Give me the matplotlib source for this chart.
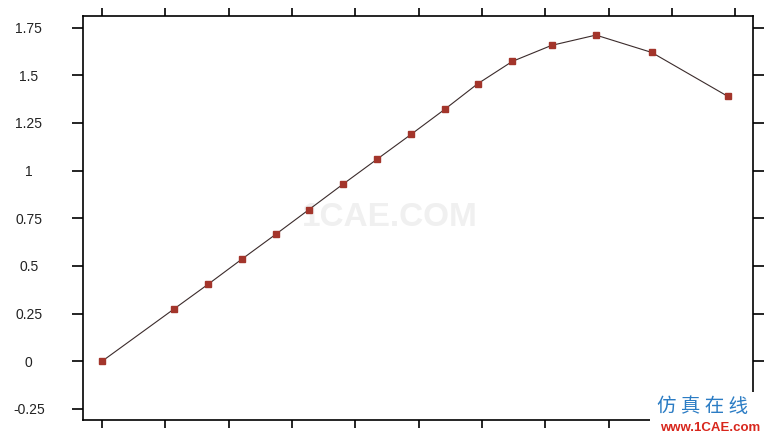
import matplotlib
matplotlib.use('Agg')
import matplotlib.pyplot as plt
from matplotlib.patches import Rectangle
import numpy as np

# values
x_vals = [0.0, 1.14, 1.68, 2.21, 2.74, 3.27, 3.81, 4.34, 4.88, 5.41,
          5.93, 6.48, 7.10, 7.80, 8.68, 9.88]
y_vals = [0.0, 0.275, 0.405, 0.536, 0.665, 0.796, 0.93, 1.059, 1.19, 1.321,
          1.455, 1.573, 1.657, 1.711, 1.62, 1.39]
y_ticks = [-0.25, 0, 0.25, 0.5, 0.75, 1, 1.25, 1.5, 1.75]
y_labels = ['-0.25', '0', '0.25', '0.5', '0.75', '1', '1.25', '1.5', '1.75']
x_ticks = list(range(11))

fig = plt.figure(figsize=(7.75, 4.34), dpi=100)
ax = fig.add_axes([0.1071, 0.0323, 0.8645, 0.9308])

ax.plot(x_vals, y_vals, color='#3b2b2b', lw=0.8, marker='s', ms=4.3,
        mfc='#a3352b', mec='#a3352b', zorder=3)

ax.set_xlim(-0.30, 10.28)
ax.set_ylim(-0.308, 1.811)
ax.set_yticks(y_ticks)
ax.set_yticklabels(y_labels)
ax.set_xticks(x_ticks)
ax.set_xticklabels([])

ax.tick_params(axis='y', which='both', direction='out', length=8, width=1.2,
               left=True, right=True, labelleft=True, labelright=False,
               pad=31, labelsize=10, labelcolor='#222222')
ax.tick_params(axis='x', which='both', direction='out', length=6, width=1.2,
               top=True, bottom=True, labelbottom=False)
for lab in ax.get_yticklabels():
    lab.set_horizontalalignment('center')
    lab.set_family(['Liberation Sans', 'DejaVu Sans'])
for sp in ax.spines.values():
    sp.set_linewidth(1.2)
    sp.set_color('black')

# watermark
ax.text(0.458, 0.50, '1CAE.COM', transform=ax.transAxes, ha='center', va='center',
        fontsize=24, fontweight='bold', color='#f0f0f0',
        family=['Liberation Sans', 'DejaVu Sans'], zorder=1)

# logo in the lower right corner
fig.patches.append(Rectangle((650 / 775, 0), 125 / 775, 42 / 434,
                             transform=fig.transFigure, facecolor='white',
                             edgecolor='none', zorder=5))
fig.text(0.906, 0.064, '仿 真 在 线', ha='center', va='center', fontsize=14,
         color='#2b7cc4', family=['Noto Sans CJK SC', 'DejaVu Sans'], zorder=6)
fig.text(0.916, 0.014, 'www.1CAE.com', ha='center', va='center', fontsize=9.5,
         fontweight='bold', color='#d8261c',
         family=['Liberation Sans', 'DejaVu Sans'], zorder=6)

fig.savefig('out.png', dpi=100)
